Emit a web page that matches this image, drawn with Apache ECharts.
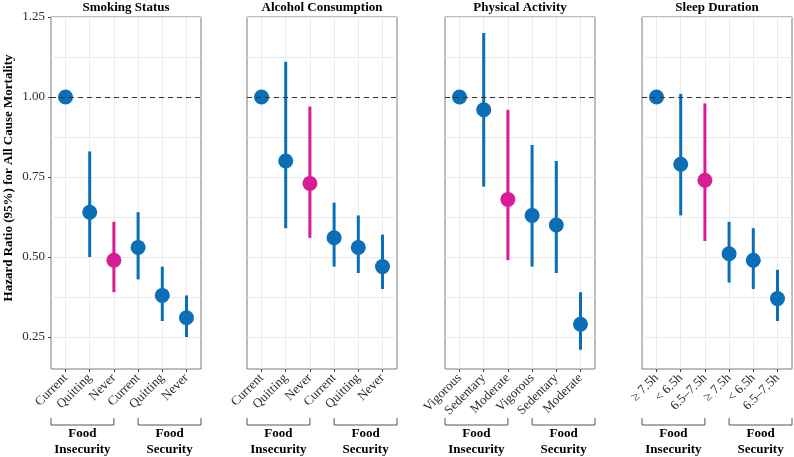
<!doctype html>
<html>
<head>
<meta charset="UTF-8">
<title>Hazard ratio by food security</title>
<script src="https://cdn.jsdelivr.net/npm/echarts@6.0.0/dist/echarts.min.js"></script>
<style>
  html, body { margin: 0; padding: 0; background: #fff; }
  #chart { width: 794px; height: 457px; }
</style>
</head>
<body>
<div id="chart"></div>
<script>
// panel titles and x categories (first 3 = food insecurity, last 3 = food security)
var panelTitles = ['Smoking Status', 'Alcohol Consumption', 'Physical Activity', 'Sleep Duration'];
var categories = [
  ['Current', 'Quitting', 'Never', 'Current', 'Quitting', 'Never'],
  ['Current', 'Quitting', 'Never', 'Current', 'Quitting', 'Never'],
  ['Vigorous', 'Sedentary', 'Moderate', 'Vigorous', 'Sedentary', 'Moderate'],
  ['\u2265 7.5h', '< 6.5h', '6.5\u20137.5h', '\u2265 7.5h', '< 6.5h', '6.5\u20137.5h']
];
// hazard ratios and 95% CI (first point is the reference, no CI)
var hr = [
  [1.00, 0.64, 0.49, 0.53, 0.38, 0.31],
  [1.00, 0.80, 0.73, 0.56, 0.53, 0.47],
  [1.00, 0.96, 0.68, 0.63, 0.60, 0.29],
  [1.00, 0.79, 0.74, 0.51, 0.49, 0.37]
];
var lower = [
  [null, 0.50, 0.39, 0.43, 0.30, 0.25],
  [null, 0.59, 0.56, 0.47, 0.45, 0.40],
  [null, 0.72, 0.49, 0.47, 0.45, 0.21],
  [null, 0.63, 0.55, 0.42, 0.40, 0.30]
];
var upper = [
  [null, 0.83, 0.61, 0.64, 0.47, 0.38],
  [null, 1.11, 0.97, 0.67, 0.63, 0.57],
  [null, 1.20, 0.96, 0.85, 0.80, 0.39],
  [null, 1.01, 0.98, 0.61, 0.59, 0.46]
];
var highlightIndex = 2;
var groupNames = ['Food\nInsecurity', 'Food\nSecurity'];
var yTitle = 'Hazard Ratio (95%) for All Cause Mortality';
var yTicks = [0.25, 0.5, 0.75, 1.0, 1.25];
var yGridLines = [0.25, 0.375, 0.5, 0.625, 0.75, 0.875, 1.0, 1.125, 1.25];
var xPositions = [1, 2, 3, 4, 5, 6];

var BLUE = '#0a6fb6';
var PINK = '#d81b96';
var FONT = 'Liberation Serif';
var panelLeft = [51, 247, 445, 642];
var panelWidth = 150;
var panelTop = 17;
var panelHeight = 352;

var grids = [], xAxes = [], yAxes = [], series = [];

panelTitles.forEach(function(title, i) {
  grids.push({
    left: panelLeft[i], top: panelTop, width: panelWidth, height: panelHeight,
    show: true, borderColor: '#7a7a7a', borderWidth: 1, backgroundColor: '#fff'
  });
  (function(cats) {
    xAxes.push({
      type: 'value', gridIndex: i, min: 0.4, max: 6.6,
      axisLine: { show: false },
      axisTick: { show: true, customValues: xPositions, length: 3, lineStyle: { color: '#444' } },
      axisLabel: {
        customValues: xPositions, rotate: 45, margin: 7,
        fontFamily: FONT, fontSize: 13, color: '#2b2b2b',
        formatter: function(v) { return cats[Math.round(v) - 1]; }
      },
      splitLine: { show: true, lineStyle: { color: '#ebebeb', width: 1 } }
    });
  })(categories[i]);
  // grid lines axis
  yAxes.push({
    type: 'value', gridIndex: i, min: 0.15, max: 1.25, position: 'left',
    axisLine: { show: false },
    axisTick: { show: false, customValues: yGridLines },
    axisLabel: { show: false },
    splitLine: { show: true, lineStyle: { color: '#ebebeb', width: 1 } }
  });
  // labels axis
  yAxes.push({
    type: 'value', gridIndex: i, min: 0.15, max: 1.25, position: 'left',
    axisLine: { show: false },
    axisTick: { show: i === 0, customValues: yTicks, length: 3, lineStyle: { color: '#444' } },
    axisLabel: {
      show: i === 0, customValues: yTicks, margin: 6,
      fontFamily: FONT, fontSize: 13, color: '#2b2b2b',
      formatter: function(v) { return v.toFixed(2); }
    },
    splitLine: { show: false }
  });

  var bars = [], pts = [];
  for (var k = 0; k < hr[i].length; k++) {
    var c = k === highlightIndex ? PINK : BLUE;
    if (lower[i][k] != null) {
      bars.push({ value: [xPositions[k], lower[i][k], upper[i][k]], itemStyle: { color: c } });
    }
    pts.push({ value: [xPositions[k], hr[i][k]], itemStyle: { color: c } });
  }
  series.push({
    type: 'custom', xAxisIndex: i, yAxisIndex: 2 * i, data: bars, z: 2,
    renderItem: function(params, api) {
      var a = api.coord([api.value(0), api.value(1)]);
      var b = api.coord([api.value(0), api.value(2)]);
      return {
        type: 'line',
        shape: { x1: a[0], y1: a[1], x2: b[0], y2: b[1] },
        style: { stroke: api.visual('color'), lineWidth: 3 }
      };
    }
  });
  series.push({
    type: 'scatter', xAxisIndex: i, yAxisIndex: 2 * i, data: pts, z: 3,
    symbolSize: 15, itemStyle: { opacity: 1 },
    markLine: {
      silent: true, symbol: 'none', label: { show: false },
      lineStyle: { color: '#333', type: [5, 4], width: 1 },
      data: [{ yAxis: 1 }]
    }
  });
});

var chart = echarts.init(document.getElementById('chart'));
chart.setOption({
  animation: false,
  grid: grids, xAxis: xAxes, yAxis: yAxes, series: series
});

// panel titles, y title and food security brackets placed with the axis scales
var graphics = [];
graphics.push({
  type: 'text', x: 9, y: 178, rotation: Math.PI / 2,
  style: { text: yTitle, textAlign: 'center', textVerticalAlign: 'middle',
    font: 'bold 13px "' + FONT + '"', fill: '#000' }
});
panelTitles.forEach(function(title, i) {
  var cx = chart.convertToPixel({ xAxisIndex: i }, 3.5);
  graphics.push({
    type: 'text', x: cx, y: 8,
    style: { text: title, textAlign: 'center', textVerticalAlign: 'middle',
      font: 'bold 13px "' + FONT + '"', fill: '#000' }
  });
  var spans = [[0.4, 3], [4, 6.6]];
  spans.forEach(function(s, g) {
    var x1 = chart.convertToPixel({ xAxisIndex: i }, s[0]);
    var x2 = chart.convertToPixel({ xAxisIndex: i }, s[1]);
    graphics.push({
      type: 'polyline',
      shape: { points: [[x1, 418], [x1, 425], [x2, 425], [x2, 418]] },
      style: { stroke: '#555', lineWidth: 1, fill: null }
    });
    graphics.push({
      type: 'text', x: (x1 + x2) / 2, y: 426,
      style: { text: groupNames[g], textAlign: 'center', textVerticalAlign: 'top',
        font: 'bold 13px "' + FONT + '"', lineHeight: 16, fill: '#000' }
    });
  });
});
chart.setOption({ graphic: graphics });
</script>
</body>
</html>
